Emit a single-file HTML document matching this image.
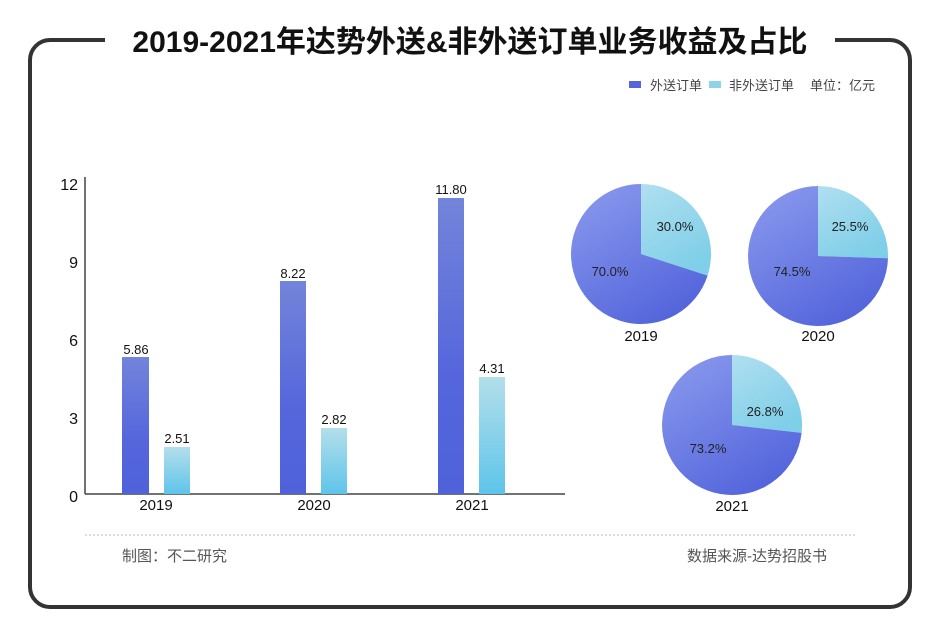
<!DOCTYPE html>
<html><head><meta charset="utf-8"><style>
body{margin:0;background:#fff;}
svg{display:block;font-family:"Liberation Sans","Noto Sans CJK SC",sans-serif;}
</style></head><body>
<svg width="940" height="644" viewBox="0 0 940 644">
<defs>
<linearGradient id="gb" x1="0" y1="0" x2="0" y2="1"><stop offset="0" stop-color="#7384da"/><stop offset="0.6" stop-color="#5566dc"/><stop offset="1" stop-color="#4f62da"/></linearGradient>
<linearGradient id="gl" x1="0" y1="0" x2="0" y2="1"><stop offset="0" stop-color="#b3dfea"/><stop offset="1" stop-color="#5ec4ea"/></linearGradient>
<linearGradient id="pb" x1="0" y1="0" x2="0.6" y2="1"><stop offset="0" stop-color="#8c9cee"/><stop offset="1" stop-color="#5566dc"/></linearGradient>
<linearGradient id="pl" x1="0" y1="0" x2="0.5" y2="1"><stop offset="0" stop-color="#b0dff0"/><stop offset="1" stop-color="#80cfe8"/></linearGradient>
</defs>
<rect x="30" y="40" width="880" height="567" rx="20" fill="none" stroke="#333" stroke-width="4"/>
<rect x="105" y="20" width="730" height="40" fill="#fff"/>
<text x="470" y="52" text-anchor="middle" font-size="30" font-weight="bold" fill="#111">2019-2021年达势外送&amp;非外送订单业务收益及占比</text>
<rect x="629" y="81" width="12" height="7" fill="#5566dc"/>
<text x="650" y="90" font-size="13" fill="#444">外送订单</text>
<rect x="709" y="81" width="12" height="7" fill="#8fd3ea"/>
<text x="729" y="90" font-size="13" fill="#444">非外送订单</text>
<text x="810" y="90" font-size="13" fill="#444">单位：亿元</text>
<line x1="85" y1="177" x2="85" y2="494" stroke="#444" stroke-width="1.5"/>
<line x1="85" y1="494" x2="565" y2="494" stroke="#444" stroke-width="1.5"/>
<g font-size="16" fill="#111" text-anchor="end">
<text x="78" y="190">12</text><text x="78" y="268">9</text><text x="78" y="346">6</text><text x="78" y="424">3</text><text x="78" y="502">0</text>
</g>
<rect x="122" y="357" width="27" height="137" fill="url(#gb)"/>
<rect x="164" y="447" width="26" height="47" fill="url(#gl)"/>
<rect x="280" y="281" width="26" height="213" fill="url(#gb)"/>
<rect x="321" y="428" width="26" height="66" fill="url(#gl)"/>
<rect x="438" y="198" width="26" height="296" fill="url(#gb)"/>
<rect x="479" y="377" width="26" height="117" fill="url(#gl)"/>
<g font-size="13" fill="#111" text-anchor="middle">
<text x="136" y="354">5.86</text><text x="177" y="443">2.51</text>
<text x="293" y="278">8.22</text><text x="334" y="424">2.82</text>
<text x="451" y="194">11.80</text><text x="492" y="373">4.31</text>
</g>
<g font-size="15" fill="#111" text-anchor="middle">
<text x="156" y="510">2019</text><text x="314" y="510">2020</text><text x="472" y="510">2021</text>
</g>
<path d="M641,254 L641,184 A70,70 0 0 1 707.6,275.6 Z" fill="url(#pl)"/>
<path d="M641,254 L707.6,275.6 A70,70 0 1 1 641,184 Z" fill="url(#pb)"/>
<path d="M818,256 L818,186 A70,70 0 0 1 888,258.2 Z" fill="url(#pl)"/>
<path d="M818,256 L888,258.2 A70,70 0 1 1 818,186 Z" fill="url(#pb)"/>
<path d="M732,425 L732,355 A70,70 0 0 1 801.6,432.9 Z" fill="url(#pl)"/>
<path d="M732,425 L801.6,432.9 A70,70 0 1 1 732,355 Z" fill="url(#pb)"/>
<g font-size="13" fill="#222" text-anchor="middle">
<text x="675" y="231">30.0%</text><text x="610" y="276">70.0%</text>
<text x="850" y="231">25.5%</text><text x="792" y="276">74.5%</text>
<text x="765" y="416">26.8%</text><text x="708" y="453">73.2%</text>
</g>
<g font-size="15" fill="#111" text-anchor="middle">
<text x="641" y="341">2019</text><text x="818" y="341">2020</text><text x="732" y="511">2021</text>
</g>
<line x1="85" y1="535" x2="857" y2="535" stroke="#bbb" stroke-width="1" stroke-dasharray="2,2"/>
<text x="122" y="561" font-size="15" fill="#555">制图：不二研究</text>
<text x="827" y="561" font-size="15" fill="#555" text-anchor="end">数据来源-达势招股书</text>
</svg>
</body></html>
